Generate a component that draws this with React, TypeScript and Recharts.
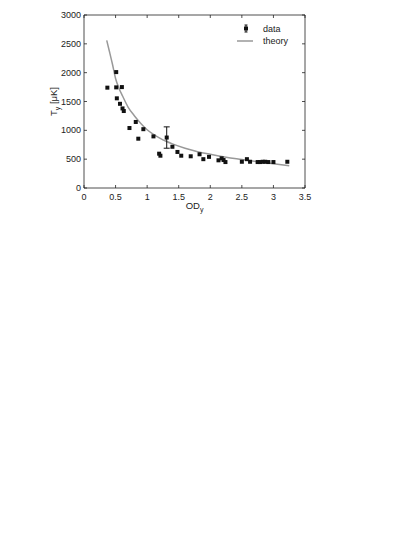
import React from 'react';
import { ComposedChart, XAxis, YAxis, Line, Scatter, ErrorBar, Legend } from 'recharts';

const OD_DATA = [0.37, 0.51, 0.51, 0.6, 0.52, 0.57, 0.61, 0.63, 0.72, 0.82, 0.86, 0.94, 1.1, 1.19, 1.21, 1.4, 1.48, 1.54, 1.69, 1.83, 1.89, 1.98, 2.13, 2.18, 2.21, 2.24, 2.5, 2.58, 2.63, 2.75, 2.79, 2.83, 2.87, 2.92, 3.0, 3.22];
const T_DATA = [1740, 2010, 1745, 1750, 1555, 1460, 1380, 1335, 1040, 1145, 855, 1020, 895, 595, 560, 715, 625, 560, 550, 585, 500, 540, 480, 515, 485, 450, 455, 500, 455, 450, 450, 455, 455, 450, 450, 455];

const ERR_OD = [1.31];
const ERR_T = [875];
const ERR_SIZE = [185];

const THEORY_OD = [0.36, 0.4, 0.45, 0.5, 0.55, 0.6, 0.7, 0.8, 0.9, 1.0, 1.1, 1.2, 1.3, 1.4, 1.6, 1.8, 2.0, 2.25, 2.5, 2.75, 3.0, 3.25];
const THEORY_T = [2560, 2380, 2150, 1900, 1740, 1620, 1400, 1250, 1120, 1010, 930, 865, 810, 765, 690, 630, 585, 535, 495, 455, 420, 385];

const X_TICKS = [0, 0.5, 1, 1.5, 2, 2.5, 3, 3.5];
const Y_TICKS = [0, 500, 1000, 1500, 2000, 2500, 3000];

const dataPoints = OD_DATA.map((x, i) => ({ x, y: T_DATA[i] }));
const errPoints = ERR_OD.map((x, i) => ({ x, y: ERR_T[i], err: ERR_SIZE[i] }));
const theory = THEORY_OD.map((x, i) => ({ x, y: THEORY_T[i] }));

const FONT = 'Liberation Sans, Arial, sans-serif';
const INK = '#222';

const BottomTick = (p: any) => {
  const { x, y, payload } = p;
  return (
    <g>
      <line x1={x} x2={x} y1={y} y2={y - 3} stroke={INK} strokeWidth={0.8} />
      <text x={x} y={y + 11.5} textAnchor="middle" fontFamily={FONT} fontSize={9} fill={INK}>
        {payload.value}
      </text>
    </g>
  );
};

const LeftTick = (p: any) => {
  const { x, y, payload } = p;
  return (
    <g>
      <line x1={x} x2={x + 3} y1={y} y2={y} stroke={INK} strokeWidth={0.8} />
      <text x={x - 3} y={y + 3} textAnchor="end" fontFamily={FONT} fontSize={9} fill={INK}>
        {payload.value}
      </text>
    </g>
  );
};

const TopTick = (p: any) => {
  const { x, y } = p;
  return <line x1={x} x2={x} y1={y} y2={y + 3} stroke={INK} strokeWidth={0.8} />;
};

const RightTick = (p: any) => {
  const { x, y } = p;
  return <line x1={x} x2={x - 3} y1={y} y2={y} stroke={INK} strokeWidth={0.8} />;
};

const XLabel = (p: any) => {
  const vb = p.viewBox || {};
  const cx = vb.x + vb.width / 2;
  const cy = vb.y + 21;
  return (
    <text x={cx} y={cy} textAnchor="middle" fontFamily={FONT} fontSize={9.5} fill={INK}>
      OD<tspan dy={3} fontSize={7}>y</tspan>
    </text>
  );
};

const YLabel = (p: any) => {
  const vb = p.viewBox || {};
  const cx = 56.5;
  const cy = vb.y + vb.height / 2;
  return (
    <text x={cx} y={cy} textAnchor="middle" fontFamily={FONT} fontSize={9.5} fill={INK} transform={`rotate(-90, ${cx}, ${cy})`}>
      T<tspan dy={3} fontSize={7}>y</tspan><tspan dy={-3}> [μK]</tspan>
    </text>
  );
};

const Square = (p: any) => {
  const { cx, cy } = p;
  if (cx == null || cy == null) return null;
  return <rect x={cx - 2} y={cy - 2} width={4} height={4} fill="#111" />;
};

const Nothing = () => <g />;

const LegendContent = () => (
  <svg width={80} height={34} style={{ display: 'block' }}>
    <line x1={9} x2={9} y1={7} y2={14} stroke="#111" strokeWidth={1} />
    <line x1={7.5} x2={10.5} y1={7} y2={7} stroke="#111" strokeWidth={1} />
    <line x1={7.5} x2={10.5} y1={14} y2={14} stroke="#111" strokeWidth={1} />
    <rect x={7} y={8.5} width={4} height={4} fill="#111" />
    <text x={26} y={14} fontFamily={FONT} fontSize={9} fill={INK}>data</text>
    <line x1={0} x2={16} y1={23} y2={23} stroke="#999" strokeWidth={1.5} />
    <text x={26} y={26} fontFamily={FONT} fontSize={9} fill={INK}>theory</text>
  </svg>
);

export default function App() {
  return (
    <div style={{ position: 'absolute', left: 0, top: 0, width: 415, height: 537, background: '#fff' }}>
      <ComposedChart width={415} height={537} margin={{ top: 14, left: 54, right: 109, bottom: 319 }}>
        <XAxis
          xAxisId={0}
          type="number"
          dataKey="x"
          domain={[0, 3.5]}
          ticks={X_TICKS}
          interval={0}
          allowDataOverflow
          height={30}
          tickSize={0}
          tickMargin={0}
          tickLine={false}
          tick={<BottomTick />}
          axisLine={{ stroke: INK, strokeWidth: 0.8 }}
          label={{ content: <XLabel /> } as any}
        />
        <XAxis
          xAxisId="top"
          orientation="top"
          type="number"
          dataKey="x"
          domain={[0, 3.5]}
          ticks={X_TICKS}
          interval={0}
          allowDataOverflow
          height={1}
          tickSize={0}
          tickMargin={0}
          tickLine={false}
          tick={<TopTick />}
          axisLine={{ stroke: INK, strokeWidth: 0.8 }}
        />
        <YAxis
          yAxisId={0}
          type="number"
          domain={[0, 3000]}
          ticks={Y_TICKS}
          interval={0}
          allowDataOverflow
          width={30}
          tickSize={0}
          tickMargin={0}
          tickLine={false}
          tick={<LeftTick />}
          axisLine={{ stroke: INK, strokeWidth: 0.8 }}
          label={{ content: <YLabel /> } as any}
        />
        <YAxis
          yAxisId="right"
          orientation="right"
          type="number"
          domain={[0, 3000]}
          ticks={Y_TICKS}
          interval={0}
          allowDataOverflow
          width={1}
          tickSize={0}
          tickMargin={0}
          tickLine={false}
          tick={<RightTick />}
          axisLine={{ stroke: INK, strokeWidth: 0.8 }}
        />
        <Line
          data={theory}
          dataKey="y"
          type="monotone"
          stroke="#999"
          strokeWidth={1.5}
          dot={false}
          isAnimationActive={false}
          name="theory"
        />
        <Scatter data={dataPoints} dataKey="y" shape={<Square />} isAnimationActive={false} name="data" />
        <Scatter data={errPoints} dataKey="y" shape={<Square />} isAnimationActive={false} name="data-err">
          <ErrorBar dataKey="err" direction="y" width={3} stroke="#111" strokeWidth={1} />
        </Scatter>
        <Scatter
          data={dataPoints}
          dataKey="y"
          xAxisId="top"
          yAxisId="right"
          shape={<Nothing />}
          isAnimationActive={false}
          legendType="none"
          name="frame"
        />
        <Legend
          layout="horizontal"
          verticalAlign="middle"
          align="center"
          content={() => <LegendContent />}
          wrapperStyle={{ position: 'absolute', left: 237, top: 18, width: 80, height: 34 }}
        />
      </ComposedChart>
    </div>
  );
}
